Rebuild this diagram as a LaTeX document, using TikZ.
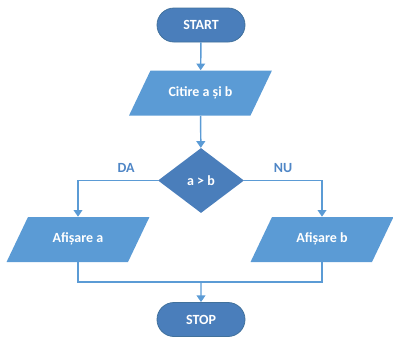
\documentclass[tikz,border=0pt]{standalone}
\usepackage{fontspec}
\setmainfont{Carlito}
\usetikzlibrary{%
  arrows.meta,%
  shapes.geometric,% wg. diamond, trapezium
  shapes.misc,% wg. rounded rectangle
  positioning%
}
\definecolor{termblue}{HTML}{4A7EBB}
\definecolor{termedge}{HTML}{41719C}
\definecolor{ioblue}{HTML}{5B9BD5}
\definecolor{lineblue}{HTML}{5B9BD5}
\definecolor{labblue}{HTML}{4F86C6}

\tikzset{
  txt/.style={font=\fontsize{10.5}{12}\selectfont\bfseries, text=white},
  terminal/.style={txt, rounded rectangle, fill=termblue, draw=termedge,
    line width=0.6pt, minimum width=66pt, minimum height=25.5pt, inner sep=0pt},
  iobox/.style={txt, trapezium, trapezium left angle=64.5, trapezium right angle=115.5,
    fill=ioblue, draw=none, text width=75pt, align=flush center, text height=7.5pt,
    text depth=2.5pt, inner xsep=0pt, inner ysep=11.875pt},
  decision/.style={txt, diamond, fill=termblue, draw=none, minimum width=64.5pt,
    minimum height=48.75pt, inner sep=0pt},
  arr/.style={draw=lineblue, line width=1.1pt, -{Triangle[length=5pt,width=6.5pt]}},
  link/.style={draw=lineblue, line width=1.1pt},
  branch/.style={font=\fontsize{10.5}{12}\selectfont\bfseries, text=labblue}
}

\begin{document}
\begin{tikzpicture}[x=0.75pt, y=-0.75pt]

\useasboundingbox (0,0) rectangle (393,337);

\node[terminal] (start) at (201,25) {START};
\node[iobox] (citire) at (200.5,93) {Citire a și b};
\node[decision] (cond) at (201,180.5) {a > b};
\node[iobox] (afa) at (78,239.5) {Afișare a};
\node[iobox] (afb) at (322,239.5) {Afișare b};
\node[terminal] (stop) at (201,319.5) {STOP};

\node[branch] (da) at (126,168) {DA};
\node[branch] (nu) at (283,168) {NU};

\coordinate (join) at (201,282);

\draw[arr] (start) -- (citire);
\draw[arr] (citire) -- (cond);
\draw[arr] (cond.west) -| (afa.north);
\draw[arr] (cond.east) -| (afb.north);
\draw[link] (afa.south) |- (join) -| (afb.south);
\draw[arr] (join) -- (stop);

\end{tikzpicture}
\end{document}
